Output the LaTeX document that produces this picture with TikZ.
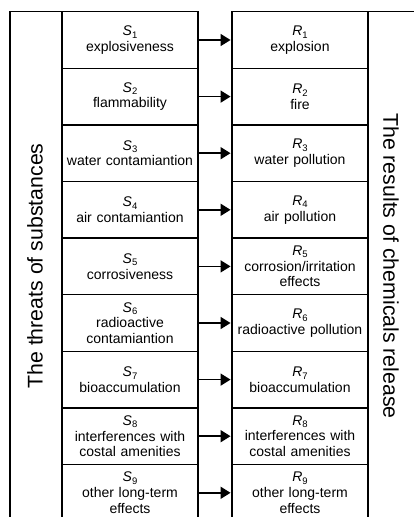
\documentclass[tikz,border=0pt]{standalone}
\usepackage{fontspec}
\setmainfont{Liberation Sans}
\usetikzlibrary{arrows.meta}
\newcommand{\lbl}[2]{{\itshape #1}\raisebox{-0.35ex}{\fontsize{9.5}{9.5}\selectfont #2}}
\tikzset{
  cell/.style={draw, line width=1.5pt, minimum width=136pt, minimum height=56.6pt,
    inner sep=0pt, text width=134pt, align=center, font=\fontsize{14}{15.8}\selectfont},
  sidebox/.style={draw, line width=1.5pt},
  sidetext/.style={font=\fontsize{21.3}{24}\selectfont, inner sep=0pt},
  arr/.style={line width=1.6pt, -{Triangle[length=10pt, width=12pt]}, shorten >=0.7pt}
}
\begin{document}
\begin{tikzpicture}[x=1pt, y=-1pt]
\useasboundingbox (0,0) rectangle (414,517);
\clip (0,0) rectangle (414,517);
\fill[white] (0,0) rectangle (414,517);
% side columns
\draw[sidebox] (10,11.7) rectangle (62,545);
\draw[sidebox] (368,11.7) rectangle (450,545);
\node[sidetext, rotate=90] (lt) at (35,266) {The threats of substances};
\node[sidetext, rotate=-90] (rt) at (391,266) {The results of chemicals release};
% rows
\foreach \i/\s/\r in {
  1/{explosiveness}/{explosion},
  2/{flammability}/{fire},
  3/{water contamiantion}/{water pollution},
  4/{air contamiantion}/{air pollution},
  5/{corrosiveness}/{corrosion/irritation\\effects},
  6/{radioactive\\contamiantion}/{radioactive pollution},
  7/{bioaccumulation}/{bioaccumulation},
  8/{interferences with\\costal amenities}/{interferences with\\costal amenities},
  9/{other long-term\\effects}/{other long-term\\effects}} {
  \node[cell] (s\i) at (130, 11.7+\i*56.6-28.3) {\lbl{S}{\i}\\\s};
  \node[cell] (r\i) at (300, 11.7+\i*56.6-28.3) {\lbl{R}{\i}\\\r};
  \draw[arr] (s\i.east) -- (r\i.west);
}
\end{tikzpicture}
\end{document}
